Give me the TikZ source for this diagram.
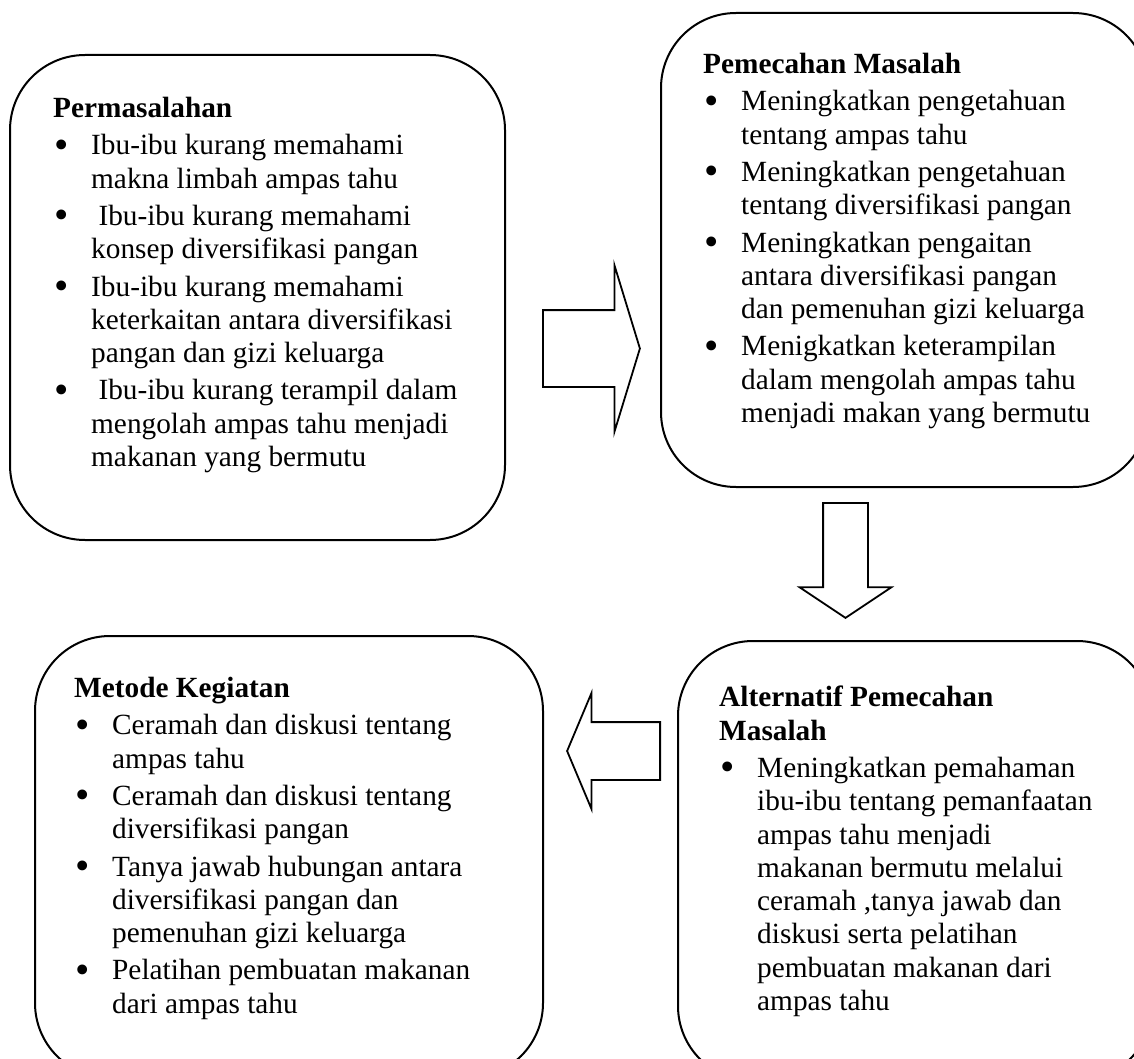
\documentclass[tikz,border=0pt]{standalone}
\usepackage{fontspec}
\setmainfont{Liberation Serif}
\usepackage{graphicx}
\usepackage{tikz}
\usetikzlibrary{shapes.arrows}
\newcommand{\poin}{\makebox[38pt][l]{\hspace{1pt}\raisebox{-3.5pt}{\scalebox{1.4}{\textbullet}}}}
\newcommand{\lanjut}{\hspace*{38pt}}

\begin{document}
\begin{tikzpicture}[x=1pt, y=-1pt,
          kotak/.style={draw, line width=2pt, rounded corners=75pt, inner sep=0pt},
          isi/.style={anchor=north west, inner sep=0pt, align=left,
                      font=\fontsize{29.3}{33.3}\selectfont},
          panah/.style={draw, single arrow, line width=1.8pt, fill=white,
                        inner xsep=0pt, anchor=tail}
        ]
        \useasboundingbox (0,0) rectangle (1134,1059);
        \clip (0,0) rectangle (1134,1059);

        % Kotak
        \node[kotak, minimum width=495pt, minimum height=485pt] (masalah)    at (257.5,297.5) {};
        \node[kotak, minimum width=487pt, minimum height=474pt] (pemecahan)  at (904.5,250) {};
        \node[kotak, minimum width=508pt, minimum height=442pt] (metode)     at (289,857) {};
        \node[kotak, minimum width=474pt, minimum height=440pt] (alternatif) at (915,861) {};

        \node[isi] (tmasalah) at (53,97)
              {\textbf{Permasalahan}\\[4pt]
               \poin Ibu-ibu kurang memahami\\
               \lanjut makna limbah ampas tahu\\[4pt]
               \poin\ Ibu-ibu kurang memahami\\
               \lanjut konsep diversifikasi pangan\\[4pt]
               \poin Ibu-ibu kurang memahami\\
               \lanjut keterkaitan antara diversifikasi\\
               \lanjut pangan dan gizi keluarga\\[4pt]
               \poin\ Ibu-ibu kurang terampil dalam\\
               \lanjut mengolah ampas tahu menjadi\\
               \lanjut makanan yang bermutu};
        \node[isi] (tpemecahan) at (703,53)
              {\textbf{Pemecahan Masalah}\\[4pt]
               \poin Meningkatkan pengetahuan\\
               \lanjut tentang ampas tahu\\[4pt]
               \poin Meningkatkan pengetahuan\\
               \lanjut tentang diversifikasi pangan\\[4pt]
               \poin Meningkatkan pengaitan\\
               \lanjut antara diversifikasi pangan\\
               \lanjut dan pemenuhan gizi keluarga\\[4pt]
               \poin Menigkatkan keterampilan\\
               \lanjut dalam mengolah ampas tahu\\
               \lanjut menjadi makan yang bermutu};
        \node[isi] (tmetode) at (74,677)
              {\textbf{Metode Kegiatan}\\[4pt]
               \poin Ceramah dan diskusi tentang\\
               \lanjut ampas tahu\\[4pt]
               \poin Ceramah dan diskusi tentang\\
               \lanjut diversifikasi pangan\\[4pt]
               \poin Tanya jawab hubungan antara\\
               \lanjut diversifikasi pangan dan\\
               \lanjut pemenuhan gizi keluarga\\[4pt]
               \poin Pelatihan pembuatan makanan\\
               \lanjut dari ampas tahu};
        \node[isi] (talternatif) at (719,686)
              {\textbf{Alternatif Pemecahan}\\
               \textbf{Masalah}\\[4pt]
               \poin Meningkatkan pemahaman\\
               \lanjut ibu-ibu tentang pemanfaatan\\
               \lanjut ampas tahu menjadi\\
               \lanjut makanan bermutu melalui\\
               \lanjut ceramah ,tanya jawab dan\\
               \lanjut diskusi serta pelatihan\\
               \lanjut pembuatan makanan dari\\
               \lanjut ampas tahu};

        % Panah blok
        \node[panah, minimum height=97pt, minimum width=165pt, inner ysep=37.5pt,
              single arrow head extend=45pt, single arrow tip angle=146] (p1) at (542,348.5) {};
        \node[panah, rotate=-90, minimum height=115pt, minimum width=90pt, inner ysep=21.5pt,
              single arrow head extend=23.5pt, single arrow tip angle=112.6] (p2) at (845.5,502) {};
        \node[panah, rotate=180, minimum height=93pt, minimum width=114pt, inner ysep=28pt,
              single arrow head extend=29pt, single arrow tip angle=134.4] (p3) at (661,751) {};
      \end{tikzpicture}
\end{document}
